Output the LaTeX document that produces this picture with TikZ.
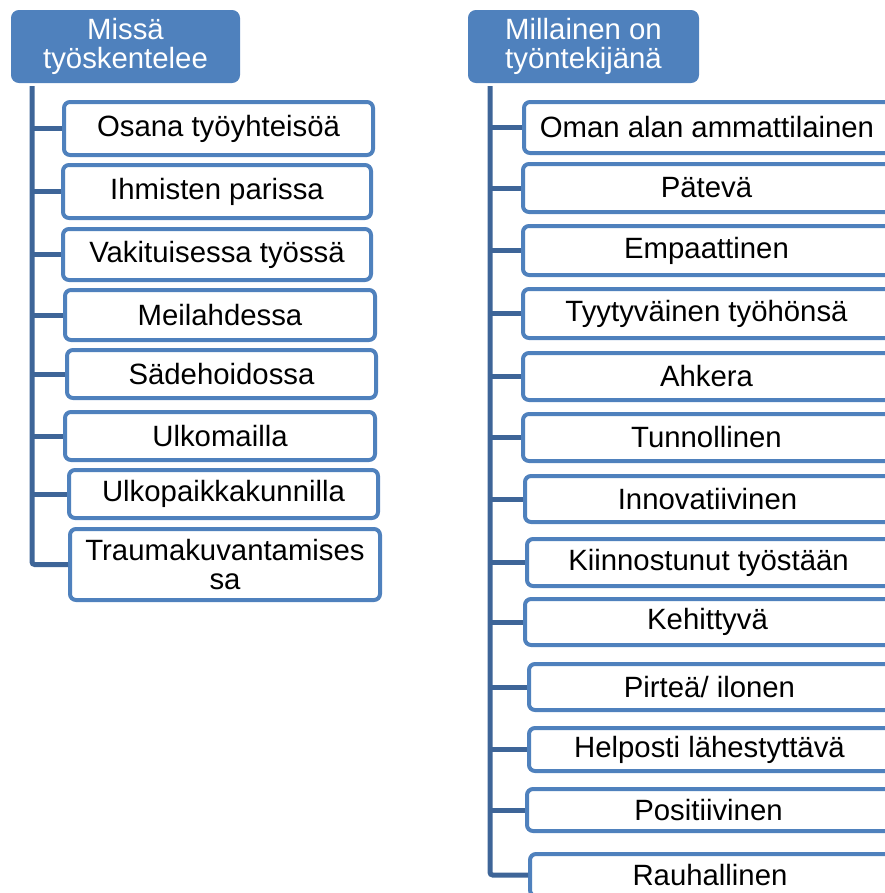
\documentclass[tikz,border=0pt]{standalone}
\usepackage{fontspec}
\setmainfont{Liberation Sans}
\definecolor{acc}{HTML}{4F81BD}
\definecolor{lin}{HTML}{3E6598}
\tikzset{
  kid/.style={draw=acc, line width=3pt, fill=white, rounded corners=4.5pt, inner sep=0pt,
    align=center, font=\fontsize{22}{21.8}\selectfont, text=black},
  head/.style={draw=acc, line width=3pt, fill=acc, rounded corners=4.5pt, inner sep=0pt,
    align=center, font=\fontsize{22}{22}\selectfont, text=white},
  conn/.style={draw=lin, line width=3.75pt}
}
\newcommand\placebox[7]{%
  \node[#7, minimum width={(#4-#2-4)*0.75pt}, minimum height={(#5-#3-4)*0.75pt}]
    (#1) at ({(#2+#4)/2},{(#3+#5)/2}) {#6};}
\newcommand\rt[1]{\hspace*{-6pt}#1}
\begin{document}
\begin{tikzpicture}[x=0.75pt,y=-0.75pt]
\useasboundingbox (0,0) rectangle (885,893);
\clip (0,0) rectangle (885,893);
% left column
\placebox{lh}{11}{10}{240}{83}{\rule{0pt}{15pt}Missä\\työskentelee}{head}
\coordinate (ltop) at (32,86);
\placebox{l1}{62}{100}{375}{157}{Osana työyhteisöä}{kid}
\placebox{l2}{61}{163}{373}{220}{Ihmisten parissa}{kid}
\placebox{l3}{61}{227}{373}{282}{Vakituisessa työssä}{kid}
\placebox{l4}{63}{288}{377}{342}{Meilahdessa}{kid}
\placebox{l5}{65}{348}{378}{400}{Sädehoidossa}{kid}
\placebox{l6}{63}{410}{377}{462}{Ulkomailla}{kid}
\placebox{l7}{67}{468}{380}{520}{Ulkopaikkakunnilla}{kid}
\placebox{l8}{68}{527}{382}{602}{Traumakuvantamises\\sa}{kid}
\draw[conn, rounded corners=2pt] (ltop) |- (l8.west);
\foreach \i in {1,...,7} { \draw[conn] (ltop |- l\i.west) -- (l\i.west); }
% right column
\placebox{rh}{468}{10}{699}{83}{\rule{0pt}{15pt}Millainen on\\työntekijänä}{head}
\coordinate (rtop) at (490,86);
\placebox{r1}{522}{100}{900}{155}{\rt{Oman alan ammattilainen}}{kid}
\placebox{r2}{521}{162}{900}{214}{\rt{Pätevä}}{kid}
\placebox{r3}{521}{224}{900}{277}{\rt{Empaattinen}}{kid}
\placebox{r4}{521}{287}{900}{340}{\rt{Tyytyväinen työhönsä}}{kid}
\placebox{r5}{521}{351}{900}{402}{\rt{Ahkera}}{kid}
\placebox{r6}{521}{412}{900}{463}{\rt{Tunnollinen}}{kid}
\placebox{r7}{523}{474}{900}{524}{\rt{Innovatiivinen}}{kid}
\placebox{r8}{525}{537}{900}{588}{\rt{Kiinnostunut työstään}}{kid}
\placebox{r9}{523}{597}{900}{647}{\rt{Kehittyvä}}{kid}
\placebox{r10}{527}{662}{900}{712}{\rt{Pirteä/ ilonen}}{kid}
\placebox{r11}{527}{726}{900}{773}{\rt{Helposti lähestyttävä}}{kid}
\placebox{r12}{525}{787}{900}{833}{\rt{Positiivinen}}{kid}
\placebox{r13}{528}{852}{900}{898}{\rt{Rauhallinen}}{kid}
\draw[conn, rounded corners=2pt] (rtop) |- (r13.west);
\foreach \i in {1,...,12} { \draw[conn] (rtop |- r\i.west) -- (r\i.west); }
\end{tikzpicture}
\end{document}
